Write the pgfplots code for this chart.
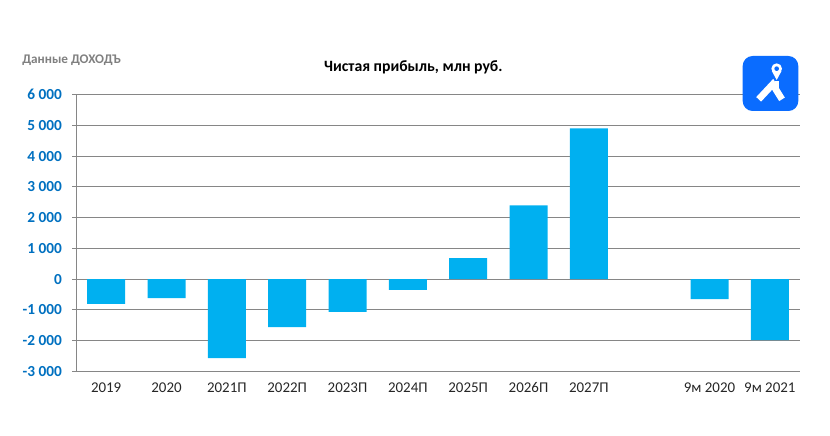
\documentclass[border=0pt]{standalone}
\usepackage{pgfplots}
\pgfplotsset{compat=1.18}
\usepackage{fontspec}
\setmainfont{Carlito}
\definecolor{barc}{HTML}{00B0F0}
\definecolor{tickc}{HTML}{0070C0}
\definecolor{gridc}{HTML}{868686}
\definecolor{logoc}{HTML}{0A6CFF}
\begin{document}
\begin{tikzpicture}[x=1pt,y=1pt]
\path[use as bounding box] (0,0) rectangle (622.5,326.25);
\begin{axis}[
 at={(57pt,47.8pt)},anchor=south west,
 width=543pt,height=207.5pt,scale only axis,
 xmin=-0.5,xmax=11.5,ymin=-3000,ymax=6000,
 ytick={-3000,-2000,...,6000},
 yticklabels={-3 000,-2 000,-1 000,0,1 000,2 000,3 000,4 000,5 000,6 000},
 xtick={0,1,2,3,4,5,6,7,8,10,11},
 xticklabels={2019,2020,2021П,2022П,2023П,2024П,2025П,2026П,2027П,9м 2020,9м 2021},
 axis x line*=bottom, axis y line*=left,
 axis line style={gridc,line width=0.75pt,-},
 ymajorgrids,grid style={gridc,line width=0.75pt},
 tick align=outside,
 ytick style={gridc,line width=0.75pt},
 xtick style={draw=none},
 major tick length=3pt,
 yticklabel style={font=\bfseries\fontsize{11.5}{12}\selectfont,text=tickc,xshift=-4pt},
 xticklabel style={font=\fontsize{11.2}{12}\selectfont,text=black!85,yshift=-1.5pt,text height=8pt,text depth=1pt},
 /pgf/number format/assume math mode=true,
 ybar,bar width=28.5pt,
 clip=false,
]
\addplot[fill=barc,draw=none] coordinates {(0,-810)(1,-620)(2,-2570)(3,-1560)(4,-1070)(5,-350)(6,680)(7,2400)(8,4905)(10,-650)(11,-1990)};
\end{axis}
\node[anchor=west,inner sep=0pt,font=\bfseries\fontsize{9.9}{11}\selectfont,text=gray] at (16.5,281) {Данные ДОХОДЪ};
\node[font=\bfseries\fontsize{11.8}{13}\selectfont] at (310,276) {Чистая прибыль, млн руб.};
\begin{scope}[shift={(510pt,296.25pt)},x=0.25pt,y=-0.25pt]
\fill[logoc,rounded corners=7.5pt] (188,48) rectangle (355,213);
\fill[white] (290,86) circle[radius=16];
\fill[white] (275.5,93) -- (290,120) -- (304.5,93) -- cycle;
\fill[logoc] (290,86) circle[radius=7];
\draw[white,line width=5pt,line cap=butt,line join=miter] (236,178) -- (278,133) -- (306,178);
\fill[white] (285,124) rectangle (298,150);
\end{scope}
\end{tikzpicture}
\end{document}
